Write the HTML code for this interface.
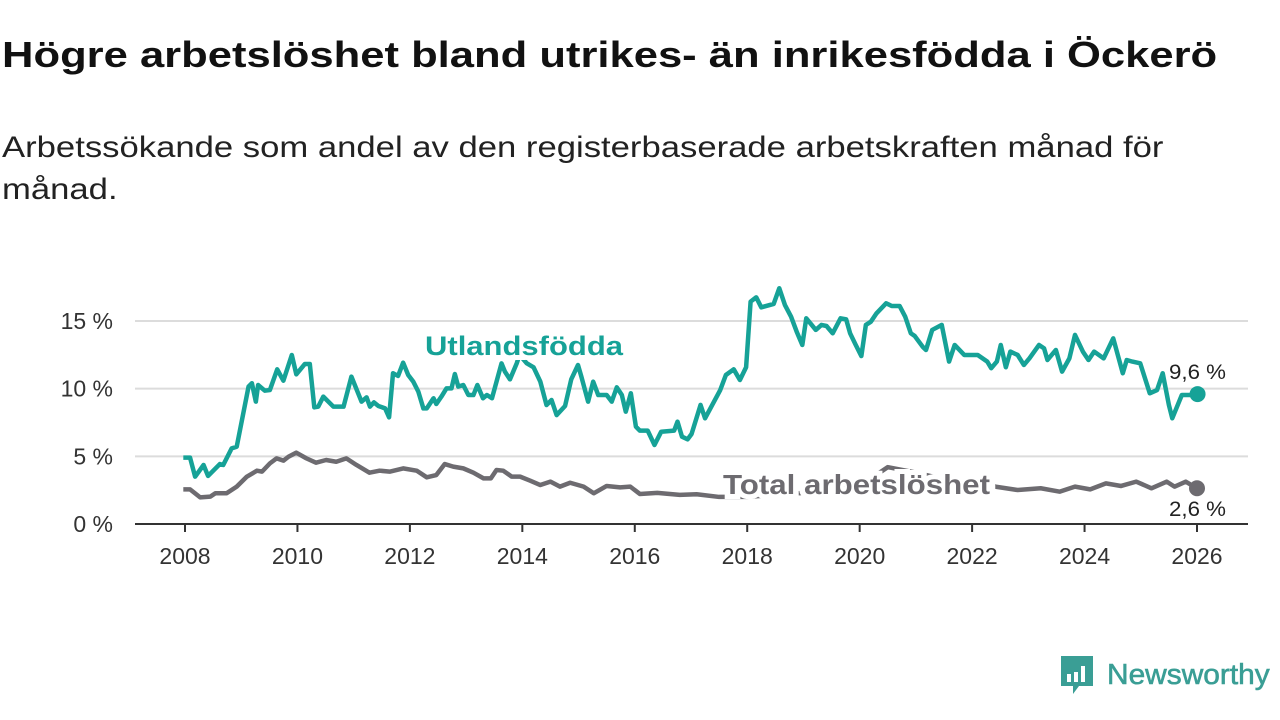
<!DOCTYPE html>
<html><head><meta charset="utf-8">
<style>
body{margin:0;width:1280px;height:720px;background:#fff;overflow:hidden;font-family:"Liberation Sans",sans-serif;position:relative}
h1{position:absolute;left:2px;top:34px;margin:0;font-size:36px;font-weight:bold;color:#111;transform:scaleX(1.21);transform-origin:0 0;white-space:nowrap}
.sub{position:absolute;left:2px;top:127px;margin:0;font-size:30px;line-height:42px;color:#222;width:1100px;transform:scaleX(1.155);transform-origin:0 0;white-space:nowrap}
svg{position:absolute;left:0;top:0}
</style></head><body>
<h1>Högre arbetslöshet bland utrikes- än inrikesfödda i Öckerö</h1>
<p class="sub">Arbetssökande som andel av den registerbaserade arbetskraften månad för<br>månad.</p>
<svg id="chart" width="1280" height="720"></svg>
<script>
const yTicks=[0,5,10,15];
const yTickLabels=["0 %","5 %","10 %","15 %"];
const xTicks=[2008,2010,2012,2014,2016,2018,2020,2022,2024,2026];
const utlDates=[2007.97,2008.09,2008.18,2008.33,2008.41,2008.62,2008.68,2008.83,2008.92,2009.13,2009.19,2009.26,2009.30,2009.42,2009.51,2009.64,2009.75,2009.90,2009.98,2010.13,2010.22,2010.30,2010.37,2010.46,2010.64,2010.82,2010.96,2011.14,2011.23,2011.29,2011.36,2011.44,2011.56,2011.63,2011.70,2011.79,2011.88,2011.97,2012.06,2012.15,2012.24,2012.30,2012.42,2012.47,2012.56,2012.65,2012.74,2012.80,2012.86,2012.95,2013.04,2013.13,2013.20,2013.30,2013.37,2013.46,2013.63,2013.69,2013.78,2013.90,2013.95,2014.08,2014.20,2014.32,2014.43,2014.52,2014.61,2014.76,2014.87,2014.99,2015.05,2015.17,2015.26,2015.35,2015.50,2015.59,2015.68,2015.77,2015.84,2015.93,2016.02,2016.09,2016.23,2016.35,2016.47,2016.70,2016.76,2016.84,2016.94,2017.01,2017.17,2017.25,2017.52,2017.62,2017.76,2017.87,2017.98,2018.06,2018.16,2018.25,2018.47,2018.57,2018.67,2018.78,2018.88,2018.98,2019.05,2019.22,2019.32,2019.41,2019.52,2019.66,2019.76,2019.83,2019.93,2020.03,2020.11,2020.20,2020.30,2020.47,2020.57,2020.71,2020.81,2020.91,2020.98,2021.12,2021.18,2021.29,2021.46,2021.59,2021.69,2021.86,2022.10,2022.27,2022.34,2022.44,2022.51,2022.60,2022.68,2022.81,2022.92,2023.02,2023.19,2023.28,2023.34,2023.49,2023.60,2023.73,2023.83,2023.97,2024.07,2024.17,2024.34,2024.51,2024.68,2024.75,2024.85,2024.99,2025.16,2025.29,2025.39,2025.50,2025.56,2025.73,2025.87,2026.01];
const utlValues=[4.9,4.9,3.5,4.36,3.55,4.43,4.36,5.59,5.71,10.15,10.4,9.04,10.27,9.85,9.9,11.43,10.59,12.49,11.06,11.82,11.82,8.62,8.67,9.41,8.67,8.67,10.89,9.04,9.36,8.67,8.99,8.72,8.54,7.88,11.14,10.94,11.92,11.01,10.52,9.78,8.54,8.54,9.29,8.87,9.41,10.02,10.02,11.08,10.15,10.27,9.53,9.53,10.27,9.29,9.53,9.29,11.87,11.26,10.69,11.87,12.5,11.87,11.58,10.52,8.79,9.16,8.05,8.72,10.69,11.75,10.89,9.04,10.52,9.53,9.53,9.04,10.1,9.53,8.3,9.66,7.19,6.9,6.9,5.84,6.82,6.9,7.56,6.45,6.26,6.65,8.8,7.81,9.9,11.01,11.43,10.64,11.58,16.43,16.75,16.01,16.26,17.42,16.19,15.32,14.21,13.23,15.2,14.34,14.71,14.63,14.09,15.2,15.12,14.09,13.23,12.41,14.71,14.95,15.57,16.31,16.11,16.11,15.32,14.09,13.89,13.1,12.86,14.34,14.71,12.0,13.23,12.49,12.49,12.0,11.51,12.0,13.23,11.58,12.74,12.49,11.75,12.24,13.23,12.98,12.12,12.86,11.26,12.24,13.97,12.74,12.12,12.74,12.24,13.72,11.14,12.12,12.0,11.87,9.66,9.9,11.14,8.8,7.81,9.53,9.53,9.6];
const totDates=[2007.97,2008.09,2008.27,2008.45,2008.54,2008.74,2008.92,2009.10,2009.28,2009.37,2009.51,2009.63,2009.75,2009.84,2009.98,2010.16,2010.33,2010.51,2010.69,2010.87,2011.05,2011.28,2011.46,2011.64,2011.88,2012.12,2012.30,2012.47,2012.62,2012.77,2012.95,2013.13,2013.31,2013.44,2013.54,2013.66,2013.81,2013.96,2014.14,2014.32,2014.50,2014.67,2014.85,2015.09,2015.27,2015.50,2015.74,2015.92,2016.09,2016.4,2016.8,2017.1,2017.5,2018.0,2019.0,2020.0,2020.5,2021.0,2021.5,2022.0,2022.41,2022.81,2023.22,2023.56,2023.83,2024.10,2024.38,2024.65,2024.92,2025.19,2025.46,2025.6,2025.8,2026.0];
const totValues=[2.56,2.56,1.97,2.02,2.27,2.27,2.76,3.5,3.94,3.87,4.48,4.85,4.68,4.97,5.27,4.85,4.53,4.73,4.6,4.85,4.36,3.79,3.94,3.87,4.11,3.94,3.45,3.62,4.43,4.24,4.11,3.79,3.37,3.37,3.99,3.94,3.5,3.5,3.2,2.88,3.13,2.76,3.05,2.76,2.27,2.81,2.71,2.76,2.22,2.3,2.15,2.2,2.0,2.0,2.3,2.8,4.2,3.8,3.3,3.0,2.76,2.51,2.64,2.39,2.76,2.56,3.0,2.81,3.13,2.64,3.13,2.76,3.13,2.64];
const NS="http://www.w3.org/2000/svg";
const svg=document.getElementById('chart');
const X=y=>185+(y-2008)*(1197-185)/18;
const Y=v=>524-v*(524-321)/15;
function mk(tag,attrs,parent){const e=document.createElementNS(NS,tag);for(const k in attrs)e.setAttribute(k,attrs[k]);(parent||svg).appendChild(e);return e;}
yTicks.forEach((t,i)=>{
  if(t>0){const g=mk('line',{x1:135,x2:1248,y1:Y(t),y2:Y(t),stroke:'#dcdcdc','stroke-width':2});
  
  }
  const tx=mk('text',{x:113,y:Y(t)+8,'text-anchor':'end','font-size':23,fill:'#333','font-family':'Liberation Sans, sans-serif'});
  tx.textContent=yTickLabels[i];
  
  
});
const ax=mk('line',{x1:135,x2:1248,y1:524,y2:524,stroke:'#333','stroke-width':2});


xTicks.forEach(t=>{
  const tk=mk('line',{x1:X(t),x2:X(t),y1:524,y2:532,stroke:'#333','stroke-width':2});
  
  
  const tx=mk('text',{x:X(t),y:564,'text-anchor':'middle','font-size':23,fill:'#333','font-family':'Liberation Sans, sans-serif'});
  tx.textContent=t;
  
  
});
function line(d,v,c){return mk('polyline',{points:d.map((x,i)=>X(x)+','+Y(v[i])).join(' '),fill:'none',stroke:c,'stroke-width':4.5,'stroke-linejoin':'round'});}
const tl=line(totDates,totValues,'#6d6b70');


const ul=line(utlDates,utlValues,'#16a297');


const d1=mk('circle',{cx:X(utlDates[utlDates.length-1]),cy:Y(utlValues[utlValues.length-1]),r:8,fill:'#16a297'});


const d2=mk('circle',{cx:X(totDates[totDates.length-1]),cy:Y(totValues[totValues.length-1]),r:8,fill:'#6d6b70'});


function lab(x,y,s,fs,c,w,name,anchor,len){const t=mk('text',{x:x,y:y,'font-size':fs,fill:c,'font-weight':w,'font-family':'Liberation Sans, sans-serif',stroke:'#fff','stroke-width':w=='bold'?10:5,'paint-order':'stroke','text-anchor':anchor||'start'});if(len){t.setAttribute('textLength',len);t.setAttribute('lengthAdjust','spacingAndGlyphs');}t.textContent=s;

return t;}
lab(425,355,'Utlandsfödda',27,'#16a297','bold','utlandsfodda-label','start',198);
lab(723,494,'Total arbetslöshet',28,'#6d6b70','bold','total-label','start',267);
lab(1226,379,'9,6 %',21,'#222','normal','utlandsfodda-value-label','end',57);
lab(1226,516,'2,6 %',21,'#222','normal','total-value-label','end',57);
</script>
<div style="position:absolute;left:1059px;top:655px;height:40px;display:flex;align-items:center">
<svg width="36" height="42" viewBox="0 0 36 42" style="position:static"><path d="M2 2h32v30H20l-6 8v-8H2z" fill="#3a9e95"/><rect x="8" y="20" width="4" height="8" fill="#fff"/><rect x="15" y="18" width="4" height="10" fill="#fff"/><rect x="22" y="12" width="4" height="16" fill="#fff"/></svg>
<span style="font-size:29px;color:#3a9e95;margin-left:12px;display:inline-block;transform:scaleX(1.03);transform-origin:0 50%;-webkit-text-stroke:0.6px #3a9e95">Newsworthy</span>
</div>
</body></html>
